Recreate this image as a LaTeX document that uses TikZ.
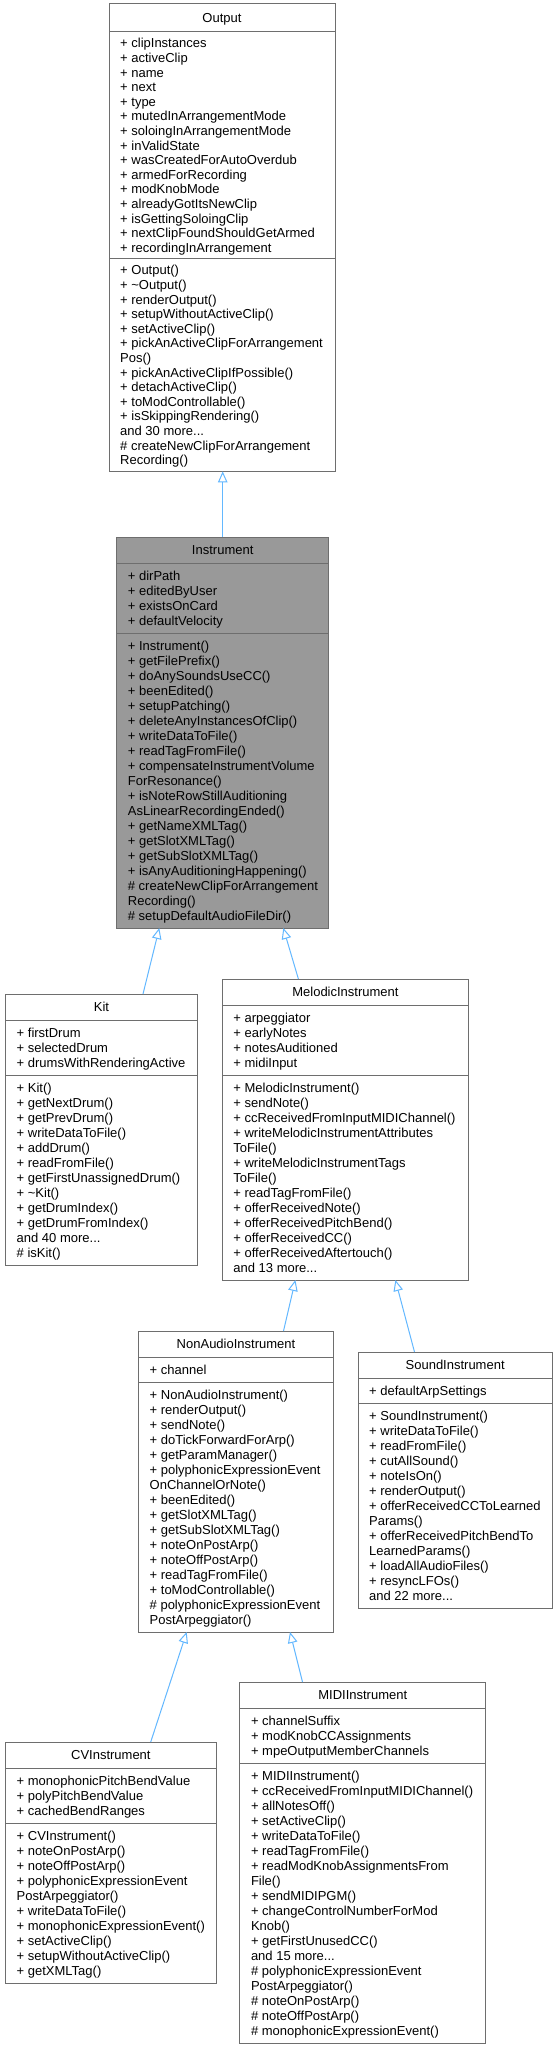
\documentclass[tikz,border=0pt]{standalone}
\usepackage{fontspec}
\setmainfont{Liberation Sans}
\usetikzlibrary{arrows.meta}
\definecolor{edgeblue}{HTML}{63B8FF}
\definecolor{boxgray}{HTML}{6E6E6E}
\definecolor{curfill}{HTML}{999999}
\newcommand\threedots{...}
\tikzset{
  classbox/.style={draw=boxgray, line width=1pt, inner sep=0pt, outer sep=0pt},
  divider/.style={draw=boxgray, line width=1pt},
  linetxt/.style={anchor=base west, inner sep=0pt, font=\fontsize{13}{15}\selectfont},
  titletxt/.style={anchor=base, inner sep=0pt, font=\fontsize{13}{15}\selectfont},
  inh/.style={draw=edgeblue, line width=1pt, -{Triangle[open, length=11pt, width=9.5pt]}},
}
\def\HD{26}\def\LH{15}\def\PD{5}
% #1 id, #2 left, #3 right, #4 top, #5 title, #6 attributes, #7 methods, #8 fill
\newcommand\umlclass[8]{%
  \foreach \ltext [count=\cnt] in {#6} {\xdef\na{\cnt}}%
  \foreach \ltext [count=\cnt] in {#7} {\xdef\nm{\cnt}}%
  \pgfmathsetmacro\Hone{#4+\HD}%
  \pgfmathsetmacro\Htwo{\Hone+\na*\LH+2*\PD}%
  \pgfmathsetmacro\Bot{\Htwo+\nm*\LH+2*\PD}%
  \pgfmathsetmacro\Wd{#3-#2}%
  \pgfmathsetmacro\Ht{\Bot-#4}%
  \node[classbox, fill=#8, minimum width=\Wd pt, minimum height=\Ht pt, anchor=north west] (#1) at (#2,#4) {};
  \node[titletxt] (#1-t) at ({(#2+#3)/2}, {#4+\HD/2+4.6}) {#5};
  \draw[divider] (#2,\Hone) -- (#3,\Hone);
  \draw[divider] (#2,\Htwo) -- (#3,\Htwo);
  \foreach \ltext [count=\ii] in {#6}
    \node[linetxt] (#1-a\ii) at ({#2+11}, {\Hone+\PD+(\ii-0.5)*\LH+4.6}) {\ltext};
  \foreach \ltext [count=\ii] in {#7}
    \node[linetxt] (#1-m\ii) at ({#2+11}, {\Htwo+\PD+(\ii-0.5)*\LH+4.6}) {\ltext};
}
\begin{document}
\begin{tikzpicture}[x=1pt, y=-1pt]
\useasboundingbox[fill=white] (0,0) rectangle (557,2049);

% Output
\def\HD{28}\def\LH{14.6}\def\PD{4}
\umlclass{out}{109}{335}{4}{Output}
{+ clipInstances, + activeClip, + name, + next, + type, + mutedInArrangementMode, + soloingInArrangementMode, + inValidState, + wasCreatedForAutoOverdub, + armedForRecording, + modKnobMode, + alreadyGotItsNewClip, + isGettingSoloingClip, + nextClipFoundShouldGetArmed, + recordingInArrangement}
{+ Output(), + \textasciitilde Output(), + renderOutput(), + setupWithoutActiveClip(), + setActiveClip(), + pickAnActiveClipForArrangement, Pos(), + pickAnActiveClipIfPossible(), + detachActiveClip(), + toModControllable(), + isSkippingRendering(), and 30 more\threedots, \# createNewClipForArrangement, Recording()}
{white}

\def\HD{26}\def\LH{15}\def\PD{5}
% Instrument
\umlclass{inst}{116.7}{328.7}{537}{Instrument}
{+ dirPath, + editedByUser, + existsOnCard, + defaultVelocity}
{+ Instrument(), + getFilePrefix(), + doAnySoundsUseCC(), + beenEdited(), + setupPatching(), + deleteAnyInstancesOfClip(), + writeDataToFile(), + readTagFromFile(), + compensateInstrumentVolume, ForResonance(), + isNoteRowStillAuditioning, AsLinearRecordingEnded(), + getNameXMLTag(), + getSlotXMLTag(), + getSubSlotXMLTag(), + isAnyAuditioningHappening(), \# createNewClipForArrangement, Recording(), \# setupDefaultAudioFileDir()}
{curfill}

% Kit
\umlclass{kit}{5.5}{197.5}{994}{Kit}
{+ firstDrum, + selectedDrum, + drumsWithRenderingActive}
{+ Kit(), + getNextDrum(), + getPrevDrum(), + writeDataToFile(), + addDrum(), + readFromFile(), + getFirstUnassignedDrum(), + \textasciitilde Kit(), + getDrumIndex(), + getDrumFromIndex(), and 40 more\threedots, \# isKit()}
{white}

% MelodicInstrument
\umlclass{mel}{222.2}{468.7}{979}{MelodicInstrument}
{+ arpeggiator, + earlyNotes, + notesAuditioned, + midiInput}
{+ MelodicInstrument(), + sendNote(), + ccReceivedFromInputMIDIChannel(), + writeMelodicInstrumentAttributes, ToFile(), + writeMelodicInstrumentTags, ToFile(), + readTagFromFile(), + offerReceivedNote(), + offerReceivedPitchBend(), + offerReceivedCC(), + offerReceivedAftertouch(), and 13 more\threedots}
{white}

% NonAudioInstrument
\umlclass{nai}{138.5}{333.5}{1331}{NonAudioInstrument}
{+ channel}
{+ NonAudioInstrument(), + renderOutput(), + sendNote(), + doTickForwardForArp(), + getParamManager(), + polyphonicExpressionEvent, OnChannelOrNote(), + beenEdited(), + getSlotXMLTag(), + getSubSlotXMLTag(), + noteOnPostArp(), + noteOffPostArp(), + readTagFromFile(), + toModControllable(), \# polyphonicExpressionEvent, PostArpeggiator()}
{white}

% SoundInstrument
\umlclass{snd}{358}{552.3}{1352}{SoundInstrument}
{+ defaultArpSettings}
{+ SoundInstrument(), + writeDataToFile(), + readFromFile(), + cutAllSound(), + noteIsOn(), + renderOutput(), + offerReceivedCCToLearned, Params(), + offerReceivedPitchBendTo, LearnedParams(), + loadAllAudioFiles(), + resyncLFOs(), and 22 more\threedots}
{white}

% CVInstrument
\umlclass{cv}{5.5}{216.2}{1742}{CVInstrument}
{+ monophonicPitchBendValue, + polyPitchBendValue, + cachedBendRanges}
{+ CVInstrument(), + noteOnPostArp(), + noteOffPostArp(), + polyphonicExpressionEvent, PostArpeggiator(), + writeDataToFile(), + monophonicExpressionEvent(), + setActiveClip(), + setupWithoutActiveClip(), + getXMLTag()}
{white}

% MIDIInstrument
\umlclass{midi}{239.8}{485.7}{1682}{MIDIInstrument}
{+ channelSuffix, + modKnobCCAssignments, + mpeOutputMemberChannels}
{+ MIDIInstrument(), + ccReceivedFromInputMIDIChannel(), + allNotesOff(), + setActiveClip(), + writeDataToFile(), + readTagFromFile(), + readModKnobAssignmentsFrom, File(), + sendMIDIPGM(), + changeControlNumberForMod, Knob(), + getFirstUnusedCC(), and 15 more\threedots, \# polyphonicExpressionEvent, PostArpeggiator(), \# noteOnPostArp(), \# noteOffPostArp(), \# monophonicExpressionEvent()}
{white}

% connector end points
\coordinate (e1s) at ([xshift=106pt]inst.north west);
\coordinate (e1e) at ([xshift=113.7pt]out.south west);
\coordinate (e2s) at ([xshift=137.5pt]kit.north west);
\coordinate (e2e) at ([xshift=42.6pt]inst.south west);
\coordinate (e3s) at ([xshift=76.2pt]mel.north west);
\coordinate (e3e) at ([xshift=166.6pt]inst.south west);
\coordinate (e4s) at ([xshift=145pt]nai.north west);
\coordinate (e4e) at ([xshift=73.2pt]mel.south west);
\coordinate (e5s) at ([xshift=56.5pt]snd.north west);
\coordinate (e5e) at ([xshift=173.2pt]mel.south west);
\coordinate (e6s) at ([xshift=145.2pt]cv.north west);
\coordinate (e6e) at ([xshift=48.2pt]nai.south west);
\coordinate (e7s) at ([xshift=62.7pt]midi.north west);
\coordinate (e7e) at ([xshift=151.5pt]nai.south west);

\draw[inh] (e1s) -- (e1e);
\draw[inh] (e2s) -- (e2e);
\draw[inh] (e3s) -- (e3e);
\draw[inh] (e4s) -- (e4e);
\draw[inh] (e5s) -- (e5e);
\draw[inh] (e6s) -- (e6e);
\draw[inh] (e7s) -- (e7e);
\end{tikzpicture}
\end{document}
